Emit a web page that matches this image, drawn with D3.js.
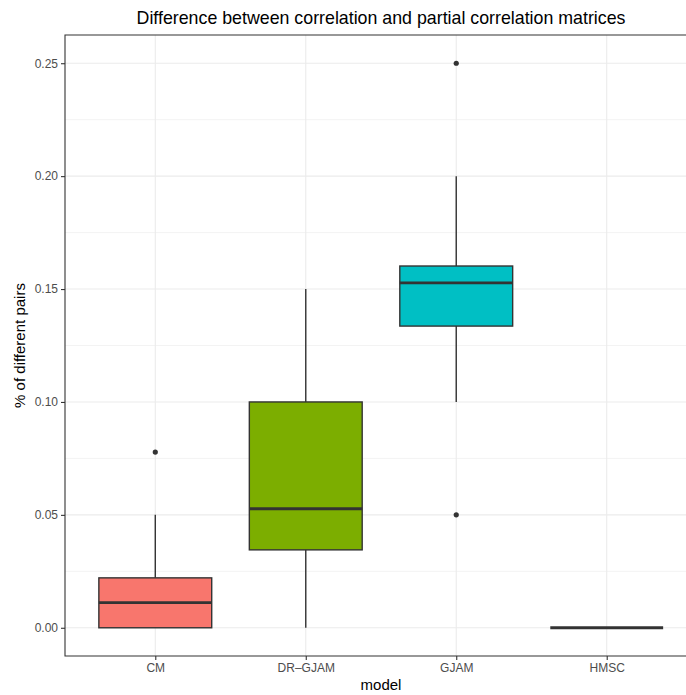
<!DOCTYPE html>
<html>
<head>
<meta charset="utf-8">
<script src="https://cdn.jsdelivr.net/npm/d3@7"></script>
<style>
  body { margin: 0; background: #fff; overflow: hidden; }
  svg { display: block; }
  text { font-family: "Liberation Sans", Arial, sans-serif; }
</style>
</head>
<body>
<div id="container"></div>
<script>
const models = ["CM", "DR\u2013GJAM", "GJAM", "HMSC"];
const colors = ["#F8766D", "#7CAE00", "#00BFC4", "#C77CFF"];
// five-number summaries
const lower  = [0.0,   0.0,    0.10,   0.0];
const q1     = [0.0,   0.0345, 0.1336, 0.0];
const median = [0.0111,0.0527, 0.1527, 0.0];
const q3     = [0.0221,0.10,   0.1602, 0.0];
const upper  = [0.05,  0.15,   0.20,   0.0];
const outliers = [[0.0778], [], [0.25, 0.05], []];
const yTicks = [0.00, 0.05, 0.10, 0.15, 0.20, 0.25];

const width = 686;
const height = 695;
const marginTop = 35;
const marginLeft = 65;
const marginBottom = 39;
const panelRight = 697; // panel runs past the picture's right edge

const data = models.map((m, i) => ({
  model: m, color: colors[i], lower: lower[i], q1: q1[i], median: median[i],
  q3: q3[i], upper: upper[i], out: outliers[i]
}));

// ggplot discrete expansion: 0.6 units each side
const x = d3.scalePoint(models, [0, 1]);
const step = (panelRight - marginLeft) / (models.length - 1 + 1.2);
const cx = (m) => marginLeft + step * (0.6 + x(m) * (models.length - 1));
const boxW = step * 0.75;

const y = d3.scaleLinear([-0.0125, 0.2625], [height - marginBottom, marginTop]);

const svg = d3.create("svg")
  .attr("width", width)
  .attr("height", height);

svg.append("rect").attr("width", width).attr("height", height).attr("fill", "#fff");

const plot = svg.append("g");

// minor grid
const minor = d3.range(-0.025, 0.3, 0.05).filter(v => v > -0.0125 && v < 0.2625);
plot.selectAll(".minor").data(minor).join("line")
  .attr("x1", marginLeft).attr("x2", panelRight)
  .attr("y1", d => y(d)).attr("y2", d => y(d))
  .attr("stroke", "#EBEBEB").attr("stroke-width", 0.6);

// major grid
plot.selectAll(".majorY").data(yTicks).join("line")
  .attr("x1", marginLeft).attr("x2", panelRight)
  .attr("y1", d => y(d)).attr("y2", d => y(d))
  .attr("stroke", "#EBEBEB").attr("stroke-width", 1.1);
plot.selectAll(".majorX").data(models).join("line")
  .attr("x1", d => cx(d)).attr("x2", d => cx(d))
  .attr("y1", marginTop).attr("y2", height - marginBottom)
  .attr("stroke", "#EBEBEB").attr("stroke-width", 1.1);

// boxes
const g = plot.selectAll(".box").data(data).join("g");
g.append("line")
  .attr("x1", d => cx(d.model)).attr("x2", d => cx(d.model))
  .attr("y1", d => y(d.upper)).attr("y2", d => y(d.q3))
  .attr("stroke", "#333333").attr("stroke-width", 1.4);
g.append("line")
  .attr("x1", d => cx(d.model)).attr("x2", d => cx(d.model))
  .attr("y1", d => y(d.q1)).attr("y2", d => y(d.lower))
  .attr("stroke", "#333333").attr("stroke-width", 1.4);
g.append("rect")
  .attr("x", d => cx(d.model) - boxW / 2).attr("width", boxW)
  .attr("y", d => y(d.q3)).attr("height", d => y(d.q1) - y(d.q3))
  .attr("fill", d => d.color)
  .attr("stroke", "#333333").attr("stroke-width", 1.4);
g.append("line")
  .attr("x1", d => cx(d.model) - boxW / 2).attr("x2", d => cx(d.model) + boxW / 2)
  .attr("y1", d => y(d.median)).attr("y2", d => y(d.median))
  .attr("stroke", "#333333").attr("stroke-width", 2.8);
g.selectAll("circle").data(d => d.out.map(v => ({ v, m: d.model }))).join("circle")
  .attr("cx", d => cx(d.m)).attr("cy", d => y(d.v)).attr("r", 2.6)
  .attr("fill", "#333333");

// panel border: top, left, bottom (right side is off the picture)
const bottomY = height - marginBottom;
svg.append("path")
  .attr("d", `M${width + 2},${marginTop}H${marginLeft}V${bottomY}H${width + 2}`)
  .attr("fill", "none").attr("stroke", "#333333").attr("stroke-width", 1.1);

// axes
const yAxis = svg.append("g")
  .attr("transform", `translate(${marginLeft},0)`)
  .call(d3.axisLeft(y).tickValues(yTicks).tickFormat(d3.format(".2f")).tickSize(4).tickPadding(3));
const xAxis = svg.append("g")
  .attr("transform", `translate(0,${bottomY})`)
  .call(d3.axisBottom(d3.scalePoint(models, [cx(models[0]), cx(models[3])])).tickSize(4).tickPadding(3));
[yAxis, xAxis].forEach(a => {
  a.select(".domain").remove();
  a.selectAll(".tick line").attr("stroke", "#333333").attr("stroke-width", 1.1);
  a.selectAll(".tick text").attr("fill", "#4D4D4D").attr("font-size", 12)
    .attr("font-family", "Liberation Sans, Arial, sans-serif");
});

// titles
svg.append("text")
  .attr("x", (marginLeft + panelRight) / 2).attr("y", 24)
  .attr("text-anchor", "middle").attr("font-size", 17.8).attr("fill", "#000")
  .text("Difference between correlation and partial correlation matrices");
svg.append("text")
  .attr("x", (marginLeft + panelRight) / 2).attr("y", 690)
  .attr("text-anchor", "middle").attr("font-size", 15).attr("fill", "#000")
  .text("model");
svg.append("text")
  .attr("transform", `translate(25,${(marginTop + bottomY) / 2}) rotate(-90)`)
  .attr("text-anchor", "middle").attr("font-size", 15).attr("fill", "#000")
  .text("% of different pairs");

document.getElementById("container").append(svg.node());
</script>
</body>
</html>
